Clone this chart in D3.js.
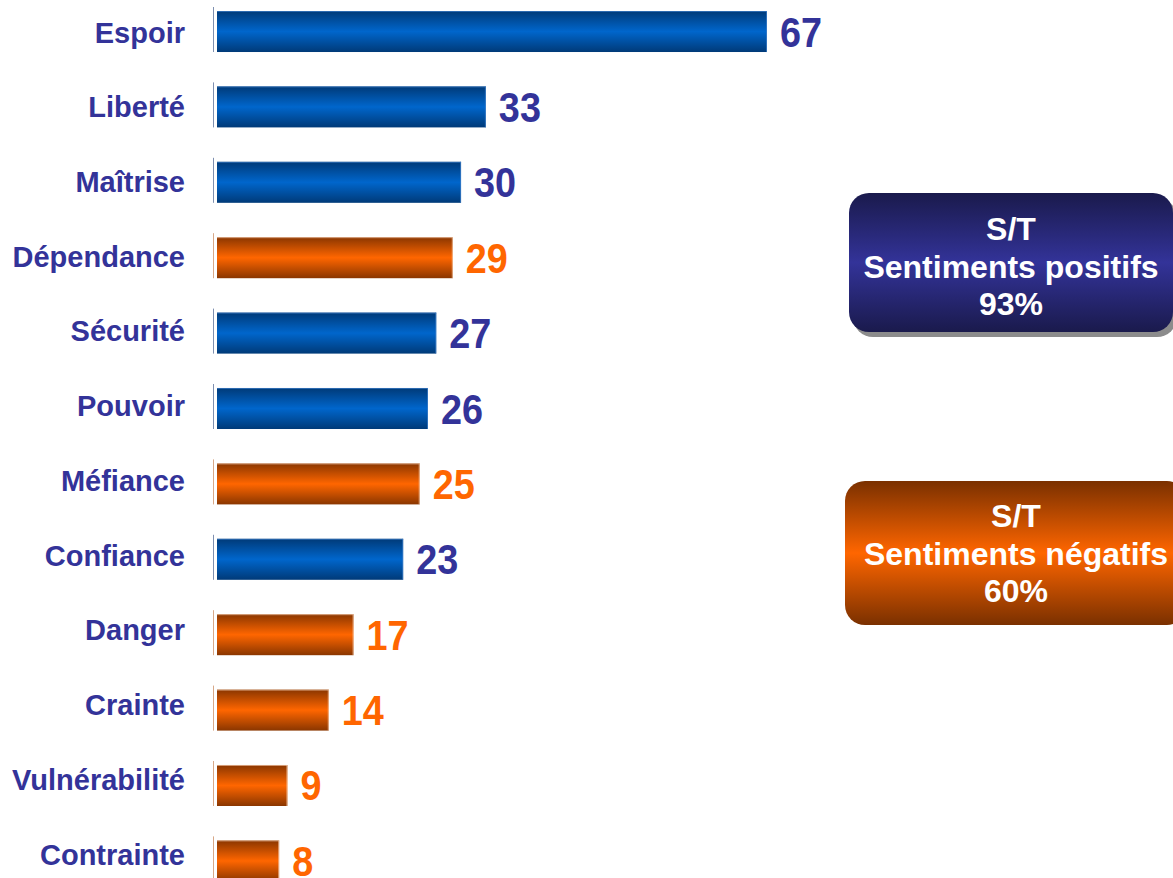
<!DOCTYPE html>
<html><head><meta charset="utf-8">
<script src="https://cdn.jsdelivr.net/npm/d3@7"></script>
<style>body{margin:0;background:#fff}svg{display:block}text{font-family:"Liberation Sans",Arial,sans-serif;font-weight:bold}</style>
</head><body>
<svg id="c" width="1173" height="878"></svg>
<script>
const categories = ["Espoir","Liberté","Maîtrise","Dépendance","Sécurité","Pouvoir","Méfiance","Confiance","Danger","Crainte","Vulnérabilité","Contrainte"];
const values = [67,33,30,29,27,26,25,23,17,14,9,8];
const sentiment = ["pos","pos","pos","neg","pos","pos","neg","pos","neg","neg","neg","neg"];
const boxes = [
  {key:"pos", lines:["S/T","Sentiments positifs","93%"]},
  {key:"neg", lines:["S/T","Sentiments négatifs","60%"]}
];

const svg = d3.select("#c");
const defs = svg.append("defs");
function grad(id, edge, mid){
  const g = defs.append("linearGradient").attr("id",id).attr("x1",0).attr("y1",0).attr("x2",0).attr("y2",1);
  g.append("stop").attr("offset","0%").attr("stop-color",edge);
  g.append("stop").attr("offset","50%").attr("stop-color",mid);
  g.append("stop").attr("offset","100%").attr("stop-color",edge);
}
grad("gpos","#003a78","#0066cc");
grad("gneg","#8a3600","#ff6600");
grad("bpos","#1a1a4c","#333399");
grad("bneg","#7a3000","#ff6600");

const colText = {pos:"#333399", neg:"#ff6600"};
const colAxis = {pos:"#7f90b0", neg:"#d8a888"};
const colEdge = {pos:"#3f7fc8", neg:"#f4c8a8"};

const x = d3.scaleLinear().domain([0,67]).range([213,767]);
const y = d3.scaleBand().domain(categories).range([11,881.4]).paddingInner(0.456).paddingOuter(0);
const yl = d3.scalePoint().domain(categories).range([32.5,854.5]);

const data = categories.map((c,i)=>({c, v:values[i], s:sentiment[i]}));

const rows = svg.append("g").selectAll("g").data(data).join("g");
rows.append("line")
  .attr("x1",x(0)+0.5).attr("x2",x(0)+0.5)
  .attr("y1",d=>y(d.c)-4).attr("y2",d=>y(d.c)+y.bandwidth())
  .attr("stroke",d=>colAxis[d.s]).attr("stroke-width",1);
rows.append("rect")
  .attr("x",x(0)+4).attr("y",d=>y(d.c))
  .attr("width",d=>x(d.v)-x(0)-4).attr("height",y.bandwidth())
  .attr("fill",d=>`url(#g${d.s})`);
rows.append("line")
  .attr("x1",x(0)+4).attr("x2",d=>x(d.v))
  .attr("y1",d=>y(d.c)+0.5).attr("y2",d=>y(d.c)+0.5)
  .attr("stroke",d=>colEdge[d.s]).attr("stroke-width",1).attr("opacity",0.7);
rows.append("line")
  .attr("x1",d=>x(d.v)-0.5).attr("x2",d=>x(d.v)-0.5)
  .attr("y1",d=>y(d.c)).attr("y2",d=>y(d.c)+y.bandwidth())
  .attr("stroke",d=>colEdge[d.s]).attr("stroke-width",1).attr("opacity",0.7);
rows.append("text")
  .attr("transform",d=>`translate(${x(d.v)+13},${y(d.c)+y.bandwidth()/2+15}) scale(0.9,1)`)
  .attr("font-size",42).attr("fill",d=>colText[d.s])
  .text(d=>d.v);
rows.append("text")
  .attr("x",185).attr("y",d=>yl(d.c)+10)
  .attr("text-anchor","end").attr("font-size",29).attr("fill","#333399")
  .text(d=>d.c);

// summary boxes
const boxGeom = {pos:{x:849,y:193,w:324,h:139,shadow:true,cx:1011,base:240}, neg:{x:845,y:481,w:342,h:144,shadow:false,cx:1016,base:527}};
const bg = svg.append("g").selectAll("g").data(boxes).join("g");
bg.filter(d=>boxGeom[d.key].shadow).append("rect")
  .attr("x",d=>boxGeom[d.key].x+4).attr("y",d=>boxGeom[d.key].y+5)
  .attr("width",d=>boxGeom[d.key].w).attr("height",d=>boxGeom[d.key].h)
  .attr("rx",20).attr("fill","#8c8c8c");
bg.append("rect")
  .attr("x",d=>boxGeom[d.key].x).attr("y",d=>boxGeom[d.key].y)
  .attr("width",d=>boxGeom[d.key].w).attr("height",d=>boxGeom[d.key].h)
  .attr("rx",20).attr("fill",d=>`url(#b${d.key})`);
bg.each(function(d){
  const g = d3.select(this), b = boxGeom[d.key];
  d.lines.forEach((t,i)=>{
    g.append("text").attr("x",b.cx).attr("y",b.base+i*37.5)
      .attr("text-anchor","middle").attr("font-size",32).attr("fill","#ffffff").text(t);
  });
});
</script>
</body></html>
